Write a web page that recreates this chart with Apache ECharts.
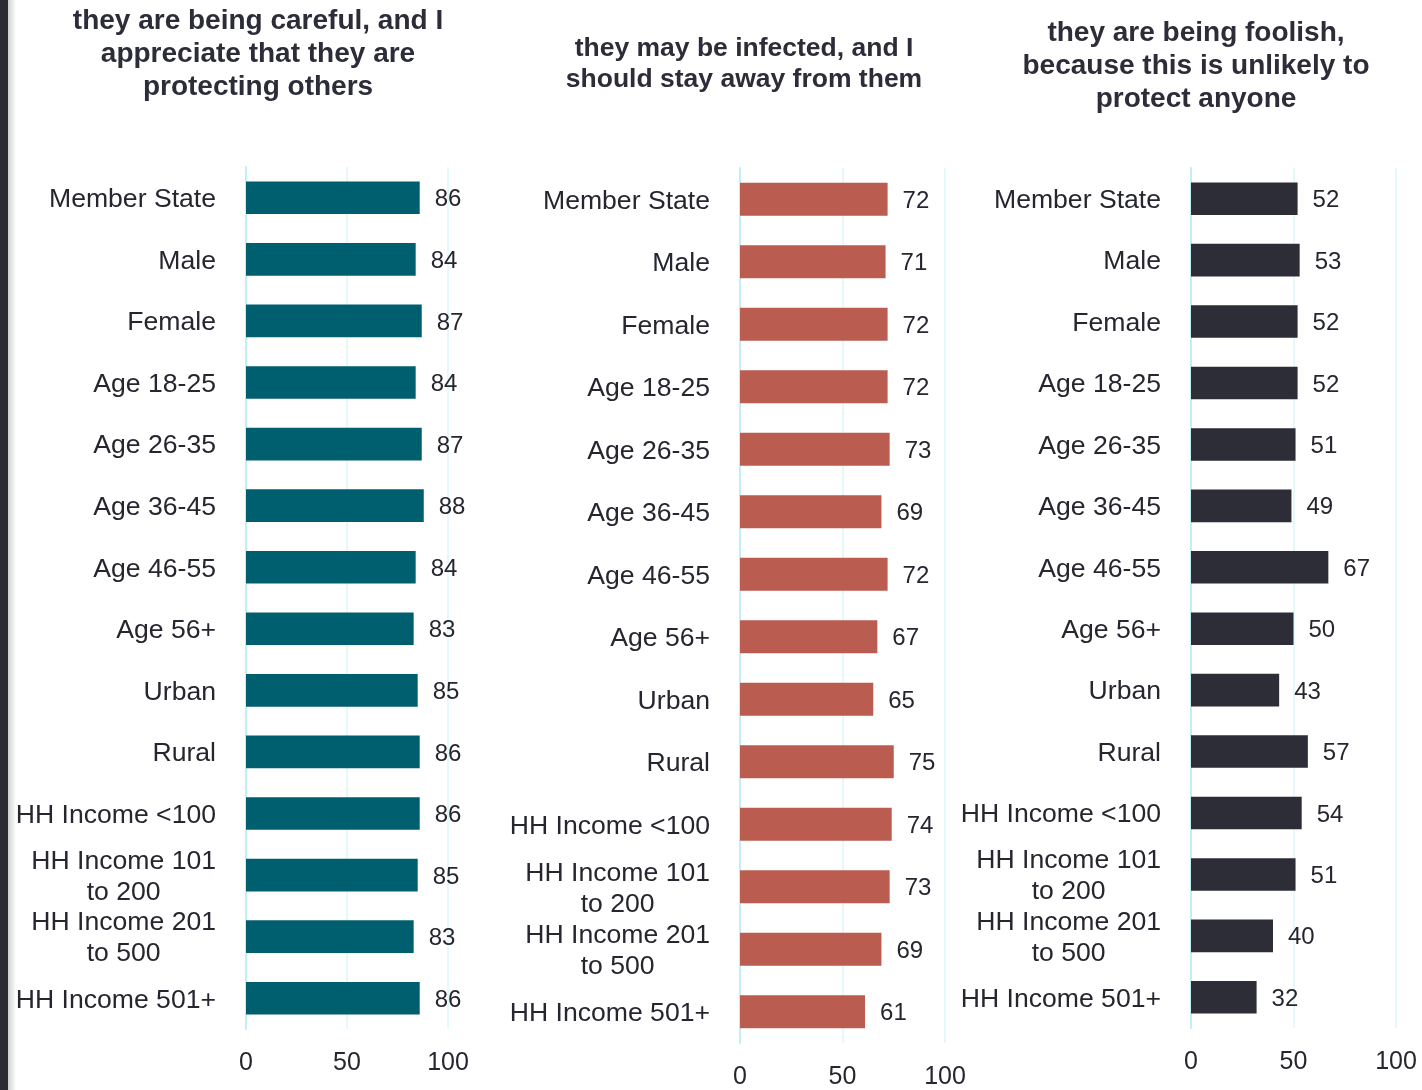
<!DOCTYPE html>
<html>
<head>
<meta charset="utf-8">
<script src="https://cdn.jsdelivr.net/npm/echarts@6/dist/echarts.min.js"></script>
<style>
html,body{margin:0;padding:0;background:#fff;}
#chart{width:1422px;height:1090px;}
</style>
</head>
<body>
<div id="chart"></div>
<script>
const categories = ['Member State','Male','Female','Age 18-25','Age 26-35','Age 36-45','Age 46-55','Age 56+','Urban','Rural','HH Income <100','HH Income 101\nto 200','HH Income 201\nto 500','HH Income 501+'];
const titles = [
  'they are being careful, and I\nappreciate that they are\nprotecting others',
  'they may be infected, and I\nshould stay away from them',
  'they are being foolish,\nbecause this is unlikely to\nprotect anyone'
];
const careful = [86,84,87,84,87,88,84,83,85,86,86,85,83,86];
const infected = [72,71,72,72,73,69,72,67,65,75,74,73,69,61];
const foolish = [52,53,52,52,51,49,67,50,43,57,54,51,40,32];
const xTicks = [0,50,100];

const colors = ['#005f6f','#ba5d50','#2d2d37'];
const textColor = '#262630';
const gridColor = '#dcf6fa';
const axisColor = '#c3eef5';

const grids = [
  {left:246, width:202, top:167, height:862},
  {left:740, width:205, top:168, height:875},
  {left:1191, width:205, top:168, height:860}
];
const seriesData = [careful, infected, foolish];

const option = {
  animation:false,
  backgroundColor:'#fff',
  title: [
    {text:titles[0], left:253, top:0, textAlign:'center', textStyle:{fontFamily:'Liberation Sans', fontWeight:'bold', fontSize:28, lineHeight:33, color:'#2d2d3a'}},
    {text:titles[1], left:739, top:28, textAlign:'center', textStyle:{fontFamily:'Liberation Sans', fontWeight:'bold', fontSize:26.5, lineHeight:31, color:'#2d2d3a'}},
    {text:titles[2], left:1191, top:12, textAlign:'center', textStyle:{fontFamily:'Liberation Sans', fontWeight:'bold', fontSize:28, lineHeight:33, color:'#2d2d3a'}}
  ],
  graphic:[
    {type:'rect', left:0, top:0, shape:{width:8, height:1090}, style:{fill:'#2b2b35'}},
    {type:'rect', left:8, top:0, shape:{width:8, height:1090}, style:{fill:new echarts.graphic.LinearGradient(0,0,1,0,[{offset:0,color:'#cfcfd3'},{offset:1,color:'#ffffff'}])}}
  ],
  grid: grids,
  xAxis: grids.map((g,i)=>({
    type:'value', gridIndex:i, min:xTicks[0], max:xTicks[xTicks.length-1], interval:50,
    axisLine:{show:false}, axisTick:{show:false},
    splitLine:{show:true, lineStyle:{color:gridColor, width:1.5}},
    axisLabel:{fontFamily:'Liberation Sans', fontSize:25, color:textColor, margin:22}
  })),
  yAxis: grids.map((g,i)=>({
    type:'category', gridIndex:i, data:categories, inverse:true,
    axisLine:{show:true, lineStyle:{color:axisColor, width:2}}, axisTick:{show:false},
    axisLabel:{interval:0, margin:30, align:'right', padding:[4,0,0,0],
      formatter: v => v.split('\n').map(s=>'{a|'+s+'}').join('\n'),
      rich:{a:{align:'center', fontFamily:'Liberation Sans', fontSize:26.6, lineHeight:31, color:textColor}}
    }
  })),
  series: seriesData.map((d,i)=>({
    type:'bar', xAxisIndex:i, yAxisIndex:i, data:d, barWidth:'53%',
    itemStyle:{color:colors[i]},
    label:{show:true, position:'right', distance:15, offset:[0,2], fontFamily:'Liberation Sans', fontSize:24, color:textColor}
  }))
};
const chart = echarts.init(document.getElementById('chart'), null, {renderer:'canvas'});
chart.setOption(option);
</script>
</body>
</html>
